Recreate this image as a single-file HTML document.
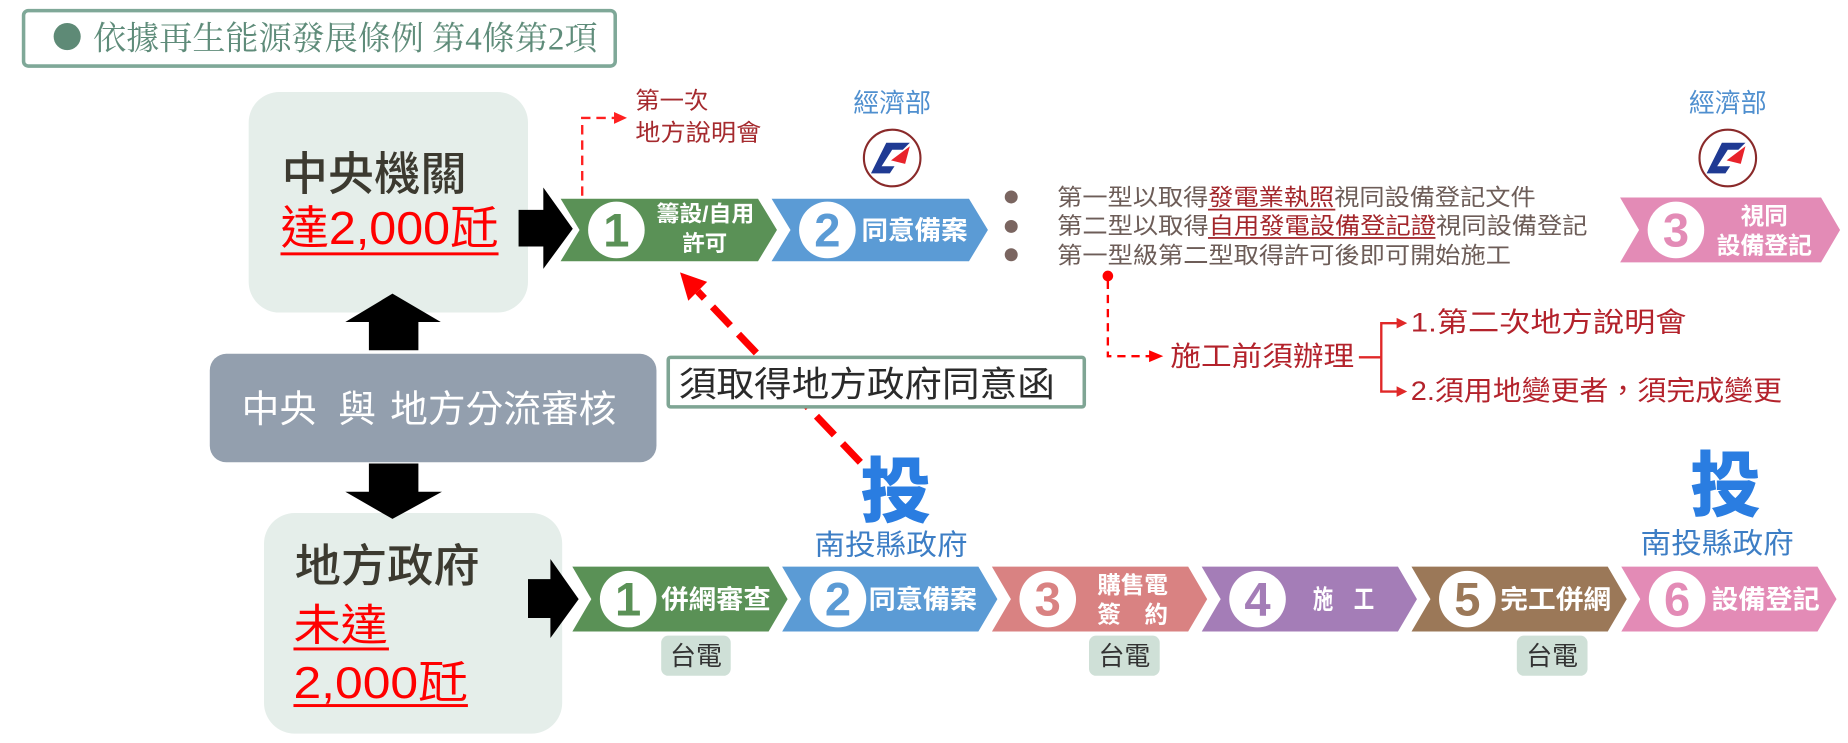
<!DOCTYPE html>
<html><head><meta charset="utf-8"><style>
html,body{margin:0;padding:0;background:#fff;}
svg{display:block;}
</style></head><body>
<svg xmlns="http://www.w3.org/2000/svg" width="1848" height="743" viewBox="0 0 1568 630" preserveAspectRatio="none" font-family="'Liberation Sans','Noto Sans CJK TC',sans-serif">
<rect x="0" y="0" width="1568" height="630" fill="#fff"/>

<!-- Title -->
<rect x="20" y="9" width="502" height="47" rx="4" fill="#fff" stroke="#7fa898" stroke-width="3"/>
<circle cx="57" cy="31" r="11.5" fill="#5e8a76"/>
<text x="79" y="42" font-size="28" font-family="'Liberation Serif','Noto Serif CJK SC',serif" fill="#5f8c7a" textLength="428" lengthAdjust="spacingAndGlyphs">依據再生能源發展條例 第4條第2項</text>

<!-- Left boxes -->
<rect x="211" y="78" width="237" height="187" rx="26" fill="#e5eeea"/>
<text x="239" y="161" font-size="39" font-weight="500" fill="#3c3a30" textLength="157" lengthAdjust="spacingAndGlyphs">中央機關</text>
<text x="238" y="207" font-size="39" fill="#ff0000" textLength="185" lengthAdjust="spacingAndGlyphs">達2,000瓩</text>
<rect x="238" y="214" width="185" height="2.5" fill="#ff0000"/>

<rect x="178" y="300" width="379" height="92" rx="14" fill="#939fae"/>
<text x="205" y="358" font-size="32" fill="#fff">中央</text>
<text x="287" y="358" font-size="32" fill="#fff">與</text>
<text x="331" y="358" font-size="32" fill="#fff" textLength="192" lengthAdjust="spacingAndGlyphs">地方分流審核</text>

<rect x="224" y="435" width="253" height="187" rx="26" fill="#e5eeea"/>
<text x="250" y="493" font-size="38" font-weight="500" fill="#3c3a30" textLength="157" lengthAdjust="spacingAndGlyphs">地方政府</text>
<text x="249" y="543" font-size="37" fill="#ff0000" textLength="80" lengthAdjust="spacingAndGlyphs">未達</text>
<rect x="249" y="549" width="81" height="2.5" fill="#ff0000"/>
<text x="249" y="592" font-size="38" fill="#ff0000" textLength="148" lengthAdjust="spacingAndGlyphs">2,000瓩</text>
<rect x="249" y="597" width="148" height="2.5" fill="#ff0000"/>

<!-- vertical arrows -->
<polygon points="333,249 374,273 355,273 355,297 313,297 313,273 293,273" fill="#000"/>
<polygon points="313,393 355,393 355,417 375,417 333,440 293,417 313,417" fill="#000"/>

<!-- horizontal black arrows -->
<polygon points="440,178 461,178 461,159 486,194 461,228 461,209 440,209" fill="#000"/>
<polygon points="448,491 467,491 467,474 491,508 467,541 467,524 448,524" fill="#000"/>

<!-- Top chevrons -->
<g stroke="#fff" stroke-width="3" stroke-linejoin="miter">
<polygon points="473,167 644,167 661,195 644,223 473,223 490,195" fill="#5a9156"/>
<polygon points="652,167 823,167 840,195 823,223 652,223 669,195" fill="#5b9bd5"/>
<polygon points="1372,166 1546,166 1563,195 1546,224 1372,224 1389,195" fill="#e38bb6"/>
</g>
<circle cx="523" cy="195" r="24" fill="#fff"/>
<text x="523" y="209" font-size="40" font-weight="bold" fill="#5a9156" text-anchor="middle">1</text>
<text x="557" y="188" font-size="19" font-weight="bold" fill="#fff" textLength="83" lengthAdjust="spacingAndGlyphs">籌設/自用</text>
<text x="598" y="213" font-size="19" font-weight="bold" fill="#fff" text-anchor="middle">許可</text>

<circle cx="702" cy="195" r="24" fill="#fff"/>
<text x="702" y="209" font-size="40" font-weight="bold" fill="#5b9bd5" text-anchor="middle">2</text>
<text x="731" y="203" font-size="22" font-weight="bold" fill="#fff" textLength="90" lengthAdjust="spacingAndGlyphs">同意備案</text>

<circle cx="1422" cy="195" r="24" fill="#fff"/>
<text x="1422" y="209" font-size="40" font-weight="bold" fill="#e38bb6" text-anchor="middle">3</text>
<text x="1497" y="190" font-size="20" font-weight="bold" fill="#fff" text-anchor="middle">視同</text>
<text x="1497" y="215" font-size="20" font-weight="bold" fill="#fff" text-anchor="middle" textLength="81" lengthAdjust="spacingAndGlyphs">設備登記</text>

<!-- Bottom chevrons -->
<g stroke="#fff" stroke-width="3">
<polygon points="483,479 653,479 670,508 653,537 483,537 500,508" fill="#5a9156"/>
<polygon points="661,479 831,479 848,508 831,537 661,537 678,508" fill="#5b9bd5"/>
<polygon points="839,479 1009,479 1026,508 1009,537 839,537 856,508" fill="#d98282"/>
<polygon points="1017,479 1187,479 1204,508 1187,537 1017,537 1034,508" fill="#a47db7"/>
<polygon points="1195,479 1365,479 1382,508 1365,537 1195,537 1212,508" fill="#9b7858"/>
<polygon points="1373,479 1543,479 1560,508 1543,537 1373,537 1390,508" fill="#e38bb6"/>
</g>
<g font-weight="bold">
<circle cx="533" cy="508" r="24" fill="#fff"/>
<text x="533" y="522" font-size="40" fill="#5a9156" text-anchor="middle">1</text>
<text x="561" y="516" font-size="22" fill="#fff" textLength="93" lengthAdjust="spacingAndGlyphs">併網審查</text>

<circle cx="711" cy="508" r="24" fill="#fff"/>
<text x="711" y="522" font-size="40" fill="#5b9bd5" text-anchor="middle">2</text>
<text x="737" y="516" font-size="22" fill="#fff" textLength="92" lengthAdjust="spacingAndGlyphs">同意備案</text>

<circle cx="889" cy="508" r="24" fill="#fff"/>
<text x="889" y="522" font-size="40" fill="#d98282" text-anchor="middle">3</text>
<text x="961" y="503" font-size="20" fill="#fff" text-anchor="middle" textLength="60" lengthAdjust="spacingAndGlyphs">購售電</text>
<text x="961" y="528" font-size="20" fill="#fff" text-anchor="middle" textLength="60" lengthAdjust="spacingAndGlyphs">簽　約</text>

<circle cx="1067" cy="508" r="24" fill="#fff"/>
<text x="1067" y="522" font-size="40" fill="#a47db7" text-anchor="middle">4</text>
<text x="1140" y="516" font-size="22" fill="#fff" text-anchor="middle" textLength="52" lengthAdjust="spacingAndGlyphs">施　工</text>

<circle cx="1245" cy="508" r="24" fill="#fff"/>
<text x="1245" y="522" font-size="40" fill="#9b7858" text-anchor="middle">5</text>
<text x="1273" y="516" font-size="22" fill="#fff" textLength="94" lengthAdjust="spacingAndGlyphs">完工併網</text>

<circle cx="1423" cy="508" r="24" fill="#fff"/>
<text x="1423" y="522" font-size="40" fill="#e38bb6" text-anchor="middle">6</text>
<text x="1452" y="516" font-size="22" fill="#fff" textLength="92" lengthAdjust="spacingAndGlyphs">設備登記</text>
</g>

<!-- 台電 labels -->
<rect x="561" y="539" width="59" height="34" rx="6" fill="#cfe0d7"/>
<text x="590.5" y="564" font-size="22" fill="#333" text-anchor="middle">台電</text>
<rect x="924" y="539" width="60" height="34" rx="6" fill="#cfe0d7"/>
<text x="954" y="564" font-size="22" fill="#333" text-anchor="middle">台電</text>
<rect x="1287" y="539" width="60" height="34" rx="6" fill="#cfe0d7"/>
<text x="1317" y="564" font-size="22" fill="#333" text-anchor="middle">台電</text>

<!-- 經濟部 -->
<text x="757" y="95" font-size="22" fill="#4f8fcf" text-anchor="middle">經濟部</text>
<g transform="translate(757,134)">
<circle r="24" fill="#fff" stroke="#8a2a2a" stroke-width="1.8"/>
<polygon points="-5,-13 15,-13 9,-7 0,-7 -9,7 2,7 -2,13 -18,13" fill="#1f3a93"/>
<polygon points="15,-10 -1,2 11,5" fill="#e8232b"/>
</g>
<text x="1466" y="95" font-size="22" fill="#4f8fcf" text-anchor="middle">經濟部</text>
<g transform="translate(1466,134)">
<circle r="24" fill="#fff" stroke="#8a2a2a" stroke-width="1.8"/>
<polygon points="-5,-13 15,-13 9,-7 0,-7 -9,7 2,7 -2,13 -18,13" fill="#1f3a93"/>
<polygon points="15,-10 -1,2 11,5" fill="#e8232b"/>
</g>

<!-- 第一次地方說明會 -->
<path d="M494,166 V100 H522" fill="none" stroke="#ff2020" stroke-width="2" stroke-dasharray="8 5"/>
<polygon points="521,95 532,100 521,105" fill="#ff2020"/>
<text x="539" y="92" font-size="20" fill="#a52a2e" textLength="62" lengthAdjust="spacingAndGlyphs">第一次</text>
<text x="539" y="119" font-size="20" fill="#a52a2e" textLength="107" lengthAdjust="spacingAndGlyphs">地方說明會</text>

<!-- bullets -->
<circle cx="858" cy="167" r="5.5" fill="#7a6560"/>
<circle cx="858" cy="192" r="5.5" fill="#7a6560"/>
<circle cx="858" cy="216" r="5.5" fill="#7a6560"/>
<g font-size="19.5" fill="#6d5d58">
<text x="897" y="174" textLength="406" lengthAdjust="spacingAndGlyphs">第一型以取得<tspan fill="#a3262b">發電業執照</tspan>視同設備登記文件</text>
<text x="897" y="198" textLength="450" lengthAdjust="spacingAndGlyphs">第二型以取得<tspan fill="#a3262b">自用發電設備登記證</tspan>視同設備登記</text>
<text x="897" y="223" textLength="385" lengthAdjust="spacingAndGlyphs">第一型級第二型取得許可後即可開始施工</text>
</g>
<rect x="1025" y="177" width="108" height="1.5" fill="#a3262b"/>
<rect x="1025" y="201" width="193" height="1.5" fill="#a3262b"/>

<!-- 施工前須辦理 connector -->
<circle cx="940" cy="234" r="4.5" fill="#ff0000"/>
<path d="M940,238 V302 H976" fill="none" stroke="#ff0000" stroke-width="2" stroke-dasharray="7 5"/>
<polygon points="975,297 987,302 975,307" fill="#ff0000"/>
<text x="993" y="310" font-size="23" fill="#b3222b" textLength="156" lengthAdjust="spacingAndGlyphs">施工前須辦理</text>
<path d="M1153,303 H1172 M1187,274 H1172 V332 H1187" fill="none" stroke="#e02828" stroke-width="2"/>
<polygon points="1185,269.5 1194,274 1185,278.5" fill="#e02828"/>
<polygon points="1185,327.5 1194,332 1185,336.5" fill="#e02828"/>
<text x="1197" y="281" font-size="23" fill="#b3222b" textLength="234" lengthAdjust="spacingAndGlyphs">1.第二次地方說明會</text>
<text x="1197" y="339" font-size="23" fill="#b3222b" textLength="315" lengthAdjust="spacingAndGlyphs">2.須用地變更者，須完成變更</text>

<!-- red dashed diagonal -->
<line x1="730" y1="392" x2="592" y2="247" stroke="#ff0000" stroke-width="6" stroke-dasharray="22 10"/>
<polygon points="577,231 600,239 584,255" fill="#ff0000"/>

<!-- 須取得地方政府同意函 -->
<rect x="567" y="303" width="353" height="42" rx="2" fill="#fff" stroke="#7fa594" stroke-width="3"/>
<text x="576" y="336" font-size="30" fill="#2a2a2a" textLength="319" lengthAdjust="spacingAndGlyphs">須取得地方政府同意函</text>

<!-- 投 logos -->
<text x="760" y="438" font-size="60" font-weight="900" fill="#2a7de1" text-anchor="middle">投</text>
<text x="756" y="470" font-size="24" fill="#3d7ec5" text-anchor="middle" textLength="130" lengthAdjust="spacingAndGlyphs">南投縣政府</text>
<text x="1464" y="433" font-size="60" font-weight="900" fill="#2a7de1" text-anchor="middle">投</text>
<text x="1457" y="469" font-size="24" fill="#3d7ec5" text-anchor="middle" textLength="130" lengthAdjust="spacingAndGlyphs">南投縣政府</text>
</svg>
</body></html>
